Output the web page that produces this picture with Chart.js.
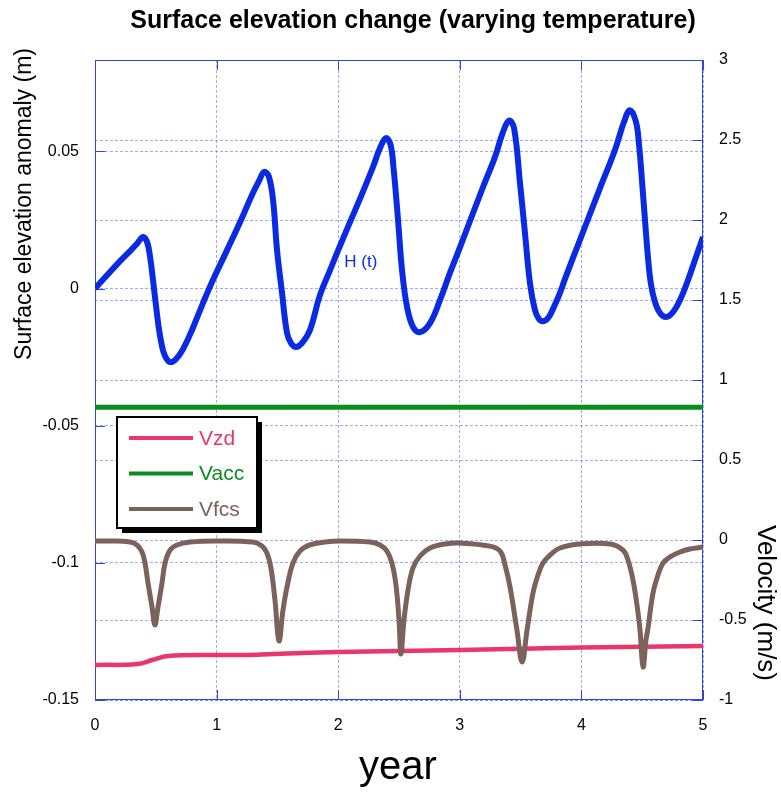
<!DOCTYPE html>
<html>
<head>
<meta charset="utf-8">
<title>Surface elevation change (varying temperature)</title>
<script src="https://cdn.jsdelivr.net/npm/chart.js@4.4.1/dist/chart.umd.min.js"></script>
<style>
    html, body { margin: 0; padding: 0; background: #fff; }
    canvas { display: block; }
</style>
</head>
<body>
<canvas id="chart" width="781" height="793"></canvas>
<script>
// H(t), surface elevation anomaly (m), left axis
const hYears = [0, 0.1, 0.2, 0.3, 0.35, 0.395, 0.428, 0.452, 0.477, 0.502, 0.526, 0.551, 0.576, 0.617, 0.666, 0.724, 0.798, 0.888, 0.97,
    1.086, 1.201, 1.291, 1.349, 1.39, 1.428, 1.464, 1.497, 1.538, 1.579, 1.612, 1.653, 1.702, 1.768, 1.85, 1.933,
    2.0, 2.097, 2.196, 2.286, 2.344, 2.393, 2.43, 2.455, 2.492, 2.525, 2.566, 2.615, 2.673, 2.755, 2.837, 2.919,
    3.002, 3.191, 3.289, 3.355, 3.405, 3.446, 3.495, 3.536, 3.577, 3.618, 3.651, 3.684, 3.725, 3.766, 3.824, 3.865, 3.988,
    4.153, 4.276, 4.35, 4.4, 4.449, 4.474, 4.498, 4.523, 4.548, 4.572, 4.605, 4.646, 4.696, 4.753, 4.811, 4.877, 4.934, 5.0]
const hValues = [0, 0.0049, 0.0097, 0.0142, 0.0166, 0.0188, 0.017, 0.0118, 0.0031, -0.0064, -0.0148, -0.021, -0.0246, -0.0268, -0.0257, -0.0221, -0.0151, -0.0053, 0.0031,
    0.014, 0.025, 0.0341, 0.0392, 0.0425, 0.041, 0.0323, 0.014, -0.0016, -0.0162, -0.0199, -0.0213, -0.0199, -0.0151, -0.0024, 0.0067,
    0.014, 0.0242, 0.0345, 0.0443, 0.0512, 0.0548, 0.0525, 0.044, 0.025, 0.0067, -0.0067, -0.014, -0.0159, -0.0126, -0.0042, 0.0057,
    0.0151, 0.037, 0.0479, 0.057, 0.0612, 0.0585, 0.0385, 0.0202, 0.002, -0.0078, -0.0111, -0.0119, -0.0108, -0.0075, -0.0016, 0.0035, 0.0177,
    0.0366, 0.0505, 0.0607, 0.065, 0.0607, 0.0523, 0.0395, 0.0249, 0.0111, 0.0016, -0.0049, -0.0089, -0.0104, -0.0086, -0.0042, 0.0031, 0.0104, 0.0188]

// velocities (m/s), right axis
const vfcsYears = [0, 0.123, 0.288, 0.345, 0.387, 0.411, 0.436, 0.469, 0.493, 0.518, 0.551, 0.576, 0.617, 0.674, 0.781,
    1.003, 1.299, 1.373, 1.414, 1.447, 1.48, 1.513, 1.546, 1.579, 1.628, 1.686, 1.768, 1.891,
    2.015, 2.262, 2.344, 2.401, 2.442, 2.475, 2.5, 2.516, 2.541, 2.574, 2.615, 2.673, 2.755, 2.878,
    3.0, 3.248, 3.331, 3.372, 3.413, 3.47, 3.512, 3.553, 3.602, 3.643, 3.684, 3.742, 3.824, 3.988,
    4.235, 4.342, 4.383, 4.424, 4.457, 4.482, 4.507, 4.531, 4.548, 4.589, 4.63, 4.671, 4.729, 4.811, 4.893, 5.0]
const vfcsValues = [-0.006, -0.006, -0.013, -0.031, -0.075, -0.144, -0.269, -0.419, -0.531, -0.419, -0.269, -0.144, -0.063, -0.031, -0.013,
    -0.006, -0.013, -0.038, -0.081, -0.175, -0.375, -0.631, -0.438, -0.294, -0.144, -0.069, -0.031, -0.013,
    -0.006, -0.013, -0.031, -0.069, -0.144, -0.281, -0.5, -0.713, -0.5, -0.313, -0.175, -0.1, -0.05, -0.025,
    -0.019, -0.038, -0.069, -0.156, -0.294, -0.563, -0.763, -0.563, -0.331, -0.219, -0.144, -0.094, -0.05, -0.025,
    -0.025, -0.063, -0.125, -0.25, -0.406, -0.563, -0.794, -0.625, -0.55, -0.331, -0.219, -0.144, -0.106, -0.075, -0.056, -0.044]

const vzdYears = [0, 0.35, 0.47, 0.6, 1.0, 1.33, 1.69, 2.0, 3.0, 4.0, 5.0]
const vzdValues = [-0.781, -0.775, -0.75, -0.725, -0.719, -0.717, -0.706, -0.7, -0.688, -0.672, -0.663]

const vaccYears = [0, 5]
const vaccValues = [0.83, 0.83]

const yearTicks = [0, 1, 2, 3, 4, 5]
const elevationTicks = [-0.15, -0.1, -0.05, 0, 0.05]
const velocityTicks = [-1, -0.5, 0, 0.5, 1, 1.5, 2, 2.5, 3]

const legendLabels = ['Vzd', 'Vacc', 'Vfcs']


Chart.defaults.font.family = "'Liberation Sans', Arial, Helvetica, sans-serif"
Chart.defaults.color = '#000'

const lineBlue = '#0b2be3'
const axisBlue = '#2f45dc'
const gridBlue = 'rgba(90, 115, 235, 0.6)'

const toPoints = (xs, ys) => xs.map((x, i) => ({ x, y: ys[i] }))
const tickLabel = v => String(Math.round(v * 1000) / 1000)
const fixedTicks = values => scale => { scale.ticks = values.map(value => ({ value })) }


const decorations = {
    id: 'decorations',

    beforeDatasetsDraw(chart) {
        const { ctx, chartArea: a, scales } = chart

        ctx.save()
        ctx.strokeStyle = axisBlue
        ctx.lineWidth = 1
        ctx.strokeRect(a.left + 0.5, a.top + 0.5, a.right - a.left - 1, a.bottom - a.top - 1)

        ctx.beginPath()
        elevationTicks.forEach(v => {
            const y = Math.round(scales.yH.getPixelForValue(v)) + 0.5
            ctx.moveTo(a.left, y)
            ctx.lineTo(a.left + 10, y)
        })
        velocityTicks.forEach(v => {
            const y = Math.round(scales.yV.getPixelForValue(v)) + 0.5
            ctx.moveTo(a.right, y)
            ctx.lineTo(a.right - 10, y)
        })
        yearTicks.forEach(v => {
            const x = Math.round(scales.x.getPixelForValue(v)) + 0.5
            ctx.moveTo(x, a.bottom)
            ctx.lineTo(x, a.bottom - 10)
            ctx.moveTo(x, a.top)
            ctx.lineTo(x, a.top + 10)
        })
        ctx.stroke()
        ctx.restore()
    },

    afterDraw(chart) {
        const { ctx, scales } = chart
        const font = (size, weight = '') => `${weight} ${size}px 'Liberation Sans', Arial, sans-serif`

        ctx.save()
        ctx.fillStyle = '#000'
        ctx.textAlign = 'center'
        ctx.textBaseline = 'alphabetic'

        ctx.font = font(25, 'bold')
        ctx.fillText('Surface elevation change (varying temperature)', 413, 28)

        ctx.font = font(40)
        ctx.fillText('year', 398, 779)

        ctx.save()
        ctx.font = font(23)
        ctx.translate(31, 204)
        ctx.rotate(-Math.PI / 2)
        ctx.fillText('Surface elevation anomaly (m)', 0, 0)
        ctx.restore()

        ctx.save()
        ctx.font = font(26)
        ctx.translate(758, 603)
        ctx.rotate(Math.PI / 2)
        ctx.fillText('Velocity (m/s)', 0, 0)
        ctx.restore()

        // H (t) label beside the curve
        ctx.font = font(17)
        ctx.fillStyle = lineBlue
        ctx.textAlign = 'left'
        ctx.textBaseline = 'middle'
        ctx.fillText('H (t)', scales.x.getPixelForValue(2.05), scales.yH.getPixelForValue(0.0097))

        // legend box with drop shadow
        const box = { x: 117, y: 417, w: 140, h: 111 }
        ctx.fillStyle = '#000'
        ctx.fillRect(box.x + 5, box.y + 5, box.w, box.h)
        ctx.fillStyle = '#fff'
        ctx.fillRect(box.x, box.y, box.w, box.h)
        ctx.strokeStyle = '#000'
        ctx.lineWidth = 2
        ctx.strokeRect(box.x, box.y, box.w, box.h)

        ctx.font = font(21)
        ctx.textBaseline = 'middle'
        legendLabels.forEach((label, i) => {
            const ds = chart.data.datasets.find(d => d.label === label)
            const y = box.y + 21 + i * 35.5
            ctx.strokeStyle = ds.borderColor
            ctx.lineWidth = 4
            ctx.beginPath()
            ctx.moveTo(box.x + 12, y)
            ctx.lineTo(box.x + 76, y)
            ctx.stroke()
            ctx.fillStyle = ds.borderColor
            ctx.fillText(label, box.x + 82, y + 1)
        })

        ctx.restore()
    }
}


const data = {
    datasets: [
        {
            label: 'H (t)',
            data: toPoints(hYears, hValues),
            yAxisID: 'yH',
            borderColor: lineBlue,
            borderWidth: 6,
            order: 1
        },
        {
            label: 'Vfcs',
            data: toPoints(vfcsYears, vfcsValues),
            yAxisID: 'yV',
            borderColor: '#7b625a',
            borderWidth: 5,
            order: 2
        },
        {
            label: 'Vacc',
            data: toPoints(vaccYears, vaccValues),
            yAxisID: 'yV',
            borderColor: '#0b8c1f',
            borderWidth: 5,
            order: 3
        },
        {
            label: 'Vzd',
            data: toPoints(vzdYears, vzdValues),
            yAxisID: 'yV',
            borderColor: '#e9376b',
            borderWidth: 4.5,
            order: 4
        }
    ]
}

const options = {
    responsive: false,
    animation: false,
    devicePixelRatio: 1,
    layout: {
        padding: { top: 60, left: 0, right: 0, bottom: 0 }
    },
    elements: {
        point: { radius: 0 },
        line: {
            tension: 0.4,
            borderJoinStyle: 'round',
            borderCapStyle: 'butt'
        }
    },
    plugins: {
        legend: { display: false },
        title: { display: false },
        tooltip: { enabled: false }
    },
    scales: {
        x: {
            type: 'linear',
            min: 0,
            max: 5,
            afterBuildTicks: fixedTicks(yearTicks),
            afterFit: scale => { scale.height = 93 },
            ticks: { padding: 16, font: { size: 16 }, callback: tickLabel, maxRotation: 0 },
            grid: { color: gridBlue, drawTicks: false },
            border: { display: false, dash: [3, 2] }
        },
        yH: {
            type: 'linear',
            position: 'left',
            min: -0.15,
            max: 0.0833,
            afterBuildTicks: fixedTicks(elevationTicks),
            afterFit: scale => { scale.width = 95 },
            ticks: { padding: 16, font: { size: 16 }, callback: tickLabel },
            grid: { color: gridBlue, drawTicks: false },
            border: { display: false, dash: [3, 2] }
        },
        yV: {
            type: 'linear',
            position: 'right',
            min: -1,
            max: 3,
            afterBuildTicks: fixedTicks(velocityTicks),
            afterFit: scale => { scale.width = 78 },
            ticks: { padding: 16, font: { size: 16 }, callback: tickLabel },
            grid: { color: gridBlue, drawTicks: false },
            border: { display: false, dash: [3, 2] }
        }
    }
}

new Chart('chart', { type: 'line', data, options, plugins: [decorations] })
</script>
</body>
</html>
